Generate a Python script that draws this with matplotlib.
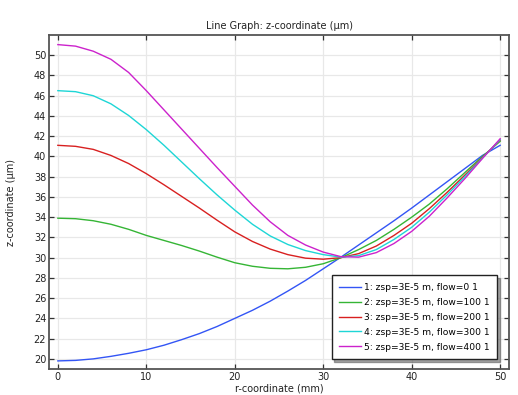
import matplotlib
matplotlib.use("Agg")
import matplotlib.pyplot as plt

r_mm = [0, 2, 4, 6, 8, 10, 12, 14, 16, 18, 20, 22, 24, 26, 28, 30, 32, 34, 36, 38, 40, 42, 44, 46, 48, 50]

z_flow0 = [19.8, 19.85, 20.0, 20.25, 20.55, 20.9, 21.35, 21.9, 22.5, 23.2, 24.0, 24.8, 25.7, 26.7, 27.75, 28.9,
           30.05, 31.25, 32.45, 33.65, 34.9, 36.2, 37.5, 38.8, 40.1, 41.1]
z_flow100 = [33.9, 33.85, 33.65, 33.3, 32.8, 32.2, 31.7, 31.2, 30.65, 30.05, 29.5, 29.15, 28.95, 28.9, 29.05, 29.4,
             30.0, 30.8, 31.7, 32.8, 34.0, 35.3, 36.8, 38.4, 40.0, 41.5]
z_flow200 = [41.1, 41.0, 40.7, 40.1, 39.3, 38.3, 37.2, 36.05, 34.9, 33.7, 32.55, 31.6, 30.85, 30.3, 29.95, 29.85,
             30.0, 30.4, 31.15, 32.2, 33.4, 34.85, 36.45, 38.15, 39.9, 41.6]
z_flow300 = [46.5, 46.4, 46.0, 45.2, 44.05, 42.65, 41.1, 39.45, 37.8, 36.2, 34.7, 33.3, 32.15, 31.3, 30.7, 30.3,
             30.05, 30.2, 30.8, 31.8, 33.0, 34.5, 36.2, 38.0, 39.85, 41.65]
z_flow400 = [51.05, 50.9, 50.4, 49.6, 48.3, 46.5, 44.6, 42.7, 40.8, 38.9, 37.05, 35.2, 33.55, 32.2, 31.25, 30.55,
             30.1, 30.05, 30.5, 31.4, 32.6, 34.1, 35.9, 37.8, 39.8, 41.75]

series = [z_flow0, z_flow100, z_flow200, z_flow300, z_flow400]
labels = ["1: zsp=3E-5 m, flow=0 1", "2: zsp=3E-5 m, flow=100 1", "3: zsp=3E-5 m, flow=200 1",
          "4: zsp=3E-5 m, flow=300 1", "5: zsp=3E-5 m, flow=400 1"]
colors = ["#3355f5", "#35b535", "#d82020", "#1ed6d6", "#cc22cc"]

x_ticks = [0, 10, 20, 30, 40, 50]
y_ticks = [20, 22, 24, 26, 28, 30, 32, 34, 36, 38, 40, 42, 44, 46, 48, 50]

fig = plt.figure(figsize=(5.18, 3.95), dpi=100)
ax = fig.add_axes([49 / 518, 1 - 369 / 395, (509 - 49) / 518, (369 - 35) / 395])

for z, lab, c in zip(series, labels, colors):
    ax.plot(r_mm, z, color=c, lw=1.0, label=lab)

ax.set_xlim(-1, 51)
ax.set_ylim(19, 52)
ax.set_xticks(x_ticks)
ax.set_yticks(y_ticks)
ax.grid(True, color="#e8e8e8", lw=0.9)
ax.set_axisbelow(True)
ax.tick_params(direction="in", length=3.5, width=0.9, labelsize=7, top=True, right=True,
               color="#333333", labelcolor="#222222", pad=2)
for s in ax.spines.values():
    s.set_color("#555555")
    s.set_linewidth(1.3)

ax.set_title("Line Graph: z-coordinate (µm)", fontsize=7, pad=4, color="#222222")
ax.set_xlabel("r-coordinate (mm)", fontsize=7, labelpad=1, color="#222222")
ax.set_ylabel("z-coordinate (µm)", fontsize=7, labelpad=13, color="#222222")

leg = ax.legend(loc="lower right", fontsize=6.6, frameon=True, fancybox=False, shadow=True,
                borderpad=0.8, labelspacing=0.65, handlelength=2.4, handletextpad=0.35,
                borderaxespad=0, bbox_to_anchor=(0.974, 0.030))
leg.get_frame().set_edgecolor("#222222")
leg.get_frame().set_linewidth(1.0)

fig.savefig("out.png", dpi=100)
